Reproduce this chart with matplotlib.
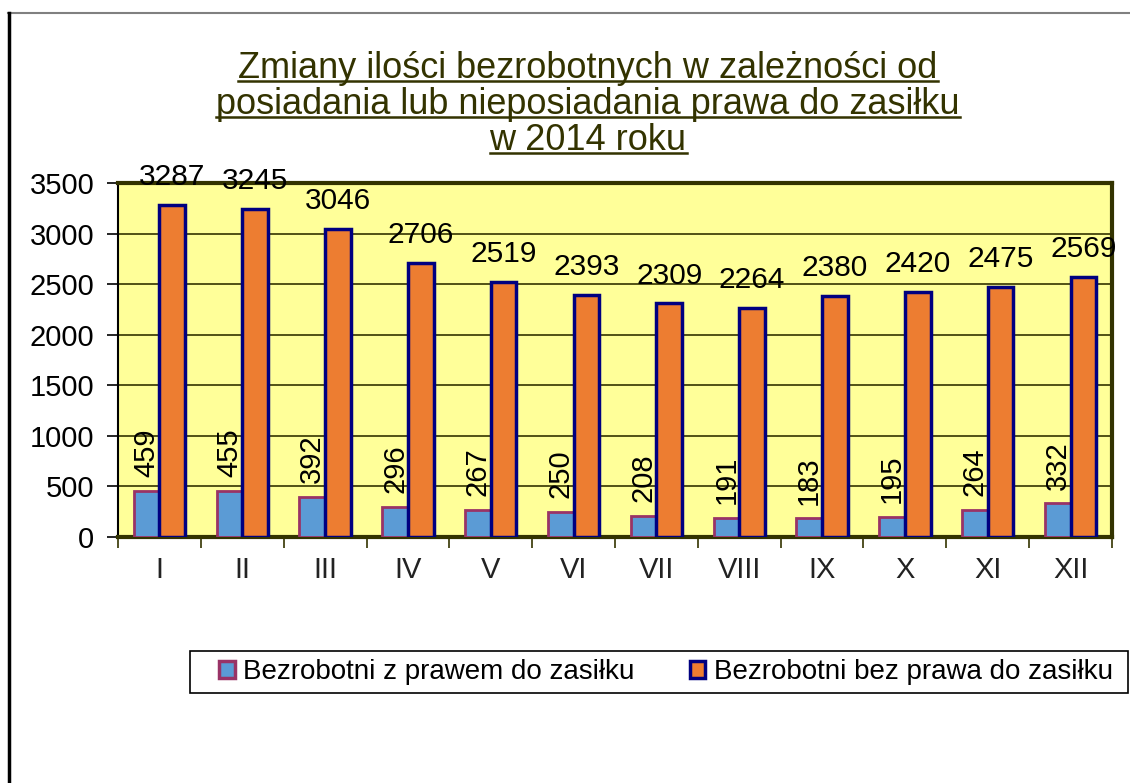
import matplotlib
matplotlib.use("Agg")
import matplotlib.pyplot as plt
from matplotlib.patches import Patch, Rectangle
from matplotlib.lines import Line2D
import numpy as np

months = ["I", "II", "III", "IV", "V", "VI", "VII", "VIII", "IX", "X", "XI", "XII"]
with_benefit = [459, 455, 392, 296, 267, 250, 208, 191, 183, 195, 264, 332]
without_benefit = [3287, 3245, 3046, 2706, 2519, 2393, 2309, 2264, 2380, 2420, 2475, 2569]
series_names = ["Bezrobotni z prawem do zasiłku", "Bezrobotni bez prawa do zasiłku"]
title_lines = ["Zmiany ilości bezrobotnych w zależności od",
               "posiadania lub nieposiadania prawa do zasiłku",
               "w 2014 roku"]
yticks = [0, 500, 1000, 1500, 2000, 2500, 3000, 3500]

plt.rcParams['font.family'] = ['Liberation Sans', 'DejaVu Sans']

W, H = 1130, 783
fig = plt.figure(figsize=(W / 100, H / 100), dpi=100)
fig.patch.set_facecolor('white')

def fx(px):
    return px / W

def fy(py):
    return 1 - py / H

# Outer frame lines
fig.add_artist(Line2D([fx(8), 1.0], [fy(13), fy(13)], color='#808080', lw=1.5))
fig.add_artist(Line2D([fx(9), fx(9)], [fy(13), 0.0], color='black', lw=2.5))

ax = fig.add_axes([fx(118), fy(537), fx(1112) - fx(118), (537 - 183) / H])
ax.set_facecolor('#FFFF99')

x = np.arange(len(months))
bw = 0.31
ax.bar(x - bw / 2, with_benefit, bw, color='#5B9BD5', edgecolor='#993366', linewidth=2, zorder=3)
ax.bar(x + bw / 2, without_benefit, bw, color='#ED7D31', edgecolor='#000080', linewidth=2.5, zorder=3)

ax.set_xlim(-0.5, len(months) - 0.5)
ax.set_ylim(0, 3500)
ax.set_yticks(yticks)
ax.set_yticklabels([str(v) for v in yticks])
ax.yaxis.grid(True, color='#333300', lw=1.2, zorder=1)
ax.set_axisbelow(True)

ax.set_xticks(x)
ax.set_xticklabels(months)
ax.set_xticks(np.arange(-0.5, len(months), 1), minor=True)
ax.tick_params(axis='x', which='major', length=0, pad=14, labelsize=21, labelcolor='#222222')
ax.tick_params(axis='x', which='minor', length=8, width=1.2, color='#333300')
ax.tick_params(axis='y', length=8, width=1.2, pad=9, labelsize=21)

for side in ['top', 'right', 'bottom']:
    ax.spines[side].set_color('#333300')
    ax.spines[side].set_linewidth(3)
ax.spines['left'].set_color('black')
ax.spines['left'].set_linewidth(1.5)

for xi, v in zip(x, with_benefit):
    ax.annotate(str(v), (xi - bw / 2, v), xytext=(0, 10), textcoords='offset points',
                rotation=90, ha='center', va='bottom', fontsize=21, zorder=4)
for xi, v in zip(x, without_benefit):
    ax.annotate(str(v), (xi + bw / 2, v), xytext=(0, 10), textcoords='offset points',
                ha='center', va='bottom', fontsize=21.5, zorder=4)

# Title with underline
title_y = [68, 104, 140]
title_color = '#333300'
texts = []
for line, ty in zip(title_lines, title_y):
    t = fig.text(fx(588), fy(ty), line, ha='center', va='center', fontsize=26, color=title_color)
    texts.append(t)
fig.canvas.draw()
r = fig.canvas.get_renderer()
for t, ty in zip(texts, title_y):
    bb = t.get_window_extent(renderer=r)
    uy = fy(ty + 13)
    fig.add_artist(Line2D([bb.x0 / W, bb.x1 / W], [uy, uy], color=title_color, lw=1.8))

# Legend box
fig.add_artist(Rectangle((fx(190), fy(693)), fx(1128) - fx(190), (693 - 651) / H,
                         transform=fig.transFigure, facecolor='white', edgecolor='black',
                         linewidth=1.2, zorder=1))
handles = [Patch(facecolor='#5B9BD5', edgecolor='#993366', linewidth=2.5),
           Patch(facecolor='#ED7D31', edgecolor='#000080', linewidth=2.5)]
leg = fig.legend(handles, series_names, loc='center', bbox_to_anchor=(fx(666), fy(672)),
                 ncol=2, fontsize=20, frameon=False,
                 handlelength=0.55, handleheight=0.55, handletextpad=0.3, columnspacing=2.0,
                 borderpad=0.2, borderaxespad=0)
leg.set_zorder(2)

fig.savefig('out.png', dpi=100, facecolor='white')
